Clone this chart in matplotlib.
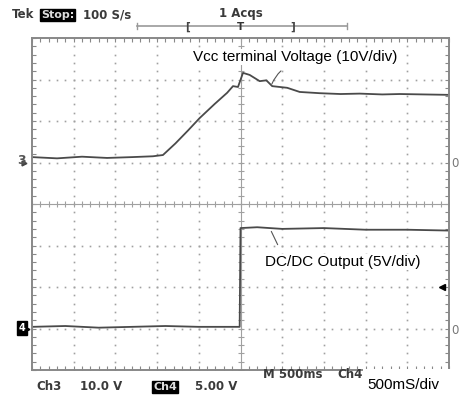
import numpy as np
import matplotlib.pyplot as plt
from matplotlib.patches import Rectangle

# scope capture: 500 ms/div, Ch3 10 V/div (ground +1 div), Ch4 5 V/div (ground -3 div)
vcc_t = [0.0, 0.3, 0.6, 0.9, 1.2, 1.45, 1.57, 1.72, 1.87, 2.01, 2.19, 2.34, 2.41, 2.47,
         2.53, 2.61, 2.73, 2.81, 2.88, 3.06, 3.21, 3.45, 3.7, 3.93, 4.2, 4.41, 4.7, 5.0]
vcc_v = [1.3, 1.0, 1.4, 1.1, 1.3, 1.5, 1.8, 4.6, 7.7, 10.7, 14.1, 16.8, 18.4, 18.2,
         21.6, 21.1, 19.6, 19.8, 18.4, 18.0, 17.0, 16.7, 16.5, 16.6, 16.4, 16.5, 16.4, 16.3]

dc_t = [0.0, 0.4, 0.8, 1.2, 1.6, 2.0, 2.3, 2.49, 2.50, 2.7, 3.0, 3.5, 4.0, 4.5, 5.0]
dc_v = [0.2, 0.3, 0.1, 0.2, 0.3, 0.2, 0.2, 0.2, 12.1, 12.2, 12.0, 12.1, 11.9, 11.9, 11.8]

ch3_scale, ch3_pos = 10.0, 1.0
ch4_scale, ch4_pos = 5.0, -3.0
time_scale = 0.5

W, H = 459, 398
fig = plt.figure(figsize=(W / 100, H / 100), dpi=100)
fig.patch.set_facecolor("white")

def fx(x):
    return x / W

def fy(y):
    return 1 - y / H

ax = fig.add_axes([fx(32), fy(370), 417 / W, 332 / H])
ax.set_xlim(0, 10)
ax.set_ylim(-4, 4)
ax.set_xticks(np.arange(0, 11, 1))
ax.set_yticks(np.arange(-4, 5, 1))
ax.set_xticks(np.arange(0, 10.01, 0.2), minor=True)
ax.set_yticks(np.arange(-4, 4.01, 0.2), minor=True)
ax.tick_params(which="both", direction="in", length=3, width=0.8, color="#888888",
               top=True, right=True, labelbottom=False, labelleft=False)
for s in ax.spines.values():
    s.set_color("#888888")
    s.set_linewidth(1.4)

grid_c = "#a0a0a0"
# dotted graticule
for gx in range(1, 10):
    if gx == 5:
        continue
    yy = np.arange(-4, 4.01, 0.2)
    ax.plot(np.full_like(yy, gx), yy, ls="none", marker="s", ms=1.2, color=grid_c, mew=0)
for gy in range(-3, 4):
    if gy == 0:
        continue
    xx = np.arange(0, 10.01, 0.2)
    ax.plot(xx, np.full_like(xx, gy), ls="none", marker="s", ms=1.2, color=grid_c, mew=0)
# center cross with ticks
ax.axhline(0, color=grid_c, lw=0.8)
ax.axvline(5, color=grid_c, lw=0.8)
xx = np.arange(0, 10.01, 0.2)
ax.plot(xx, np.zeros_like(xx), ls="none", marker="|", ms=4, color=grid_c, mew=0.8)
yy = np.arange(-4, 4.01, 0.2)
ax.plot(np.full_like(yy, 5), yy, ls="none", marker="_", ms=4, color=grid_c, mew=0.8)

trace_c = "#4a4a4a"
ax.plot(np.array(vcc_t) / time_scale, np.array(vcc_v) / ch3_scale + ch3_pos,
        color=trace_c, lw=1.3)
ax.plot(np.array(dc_t) / time_scale, np.array(dc_v) / ch4_scale + ch4_pos,
        color=trace_c, lw=1.3)

# channel markers
fig.text(fx(21), fy(161), "3", fontsize=9, fontweight="bold", color="#555555",
         ha="center", va="center")
ax.plot([-0.2], [ch3_pos], marker=">", ms=3.5, color="#444444", clip_on=False)
fig.text(fx(22), fy(328), "4", fontsize=7, fontweight="bold", color="white",
         ha="center", va="center",
         bbox=dict(boxstyle="square,pad=0.2", fc="black", ec="black"))
ax.plot([-0.12], [ch4_pos], marker=">", ms=3.5, color="black", clip_on=False)
fig.text(fx(455), fy(163), "0", fontsize=8.5, color="#777777", ha="center", va="center")
fig.text(fx(455), fy(330), "0", fontsize=8.5, color="#777777", ha="center", va="center")
ax.plot([9.83], [-2.0], marker="<", ms=5, color="black", clip_on=False)

# header
hdr = dict(fontsize=8.5, fontweight="bold", color="#3a3a3a", va="center")
fig.text(fx(12), fy(15), "Tek", **hdr)
fig.text(fx(41), fy(15), "Stop:", fontsize=8, fontweight="bold", color="#dddddd",
         va="center", bbox=dict(boxstyle="square,pad=0.1", fc="black", ec="black"))
fig.text(fx(83), fy(15), "100 S/s", **hdr)
fig.text(fx(241), fy(13), "1 Acqs", ha="center", fontsize=8.5, fontweight="bold",
         color="#3a3a3a", va="center")

bar_c = "#999999"
ax.plot([2.52, 7.55], [4.29, 4.29], color=bar_c, lw=1.2, clip_on=False)
for bx in (2.52, 7.55):
    ax.plot([bx, bx], [4.22, 4.36], color=bar_c, lw=1.0, clip_on=False)
fig.text(fx(188), fy(27), "[", fontsize=7.5, fontweight="bold", color="#444444", ha="center", va="center")
fig.text(fx(293), fy(27), "]", fontsize=7.5, fontweight="bold", color="#444444", ha="center", va="center")
fig.text(fx(241), fy(27.5), "T", fontsize=7.5, fontweight="bold", color="#333333", ha="center", va="center")

# footer
fig.text(fx(36), fy(387), "Ch3", **hdr)
fig.text(fx(80), fy(387), "10.0 V", **hdr)
fig.text(fx(153), fy(387), "Ch4", fontsize=8, fontweight="bold", color="#dddddd",
         va="center", bbox=dict(boxstyle="square,pad=0.1", fc="black", ec="black"))
fig.text(fx(195), fy(387), "5.00 V", **hdr)
fig.text(fx(263), fy(375), "M 500ms", **hdr)
fig.text(fx(337), fy(375), "Ch4", **hdr)

fig.patches.append(Rectangle((fx(363), fy(398)), 96 / W, 29 / H, transform=fig.transFigure,
                             fc="white", ec="none", zorder=5))
fig.text(fx(367), fy(385), "500mS/div", fontsize=11, family="Liberation Sans",
         color="black", va="center", zorder=6)

# annotations
fig.text(fx(193), fy(57), "Vcc terminal Voltage (10V/div)", fontsize=11,
         family="Liberation Sans", color="black", va="center",
         bbox=dict(boxstyle="square,pad=0.05", fc="white", ec="none"))
fig.text(fx(265), fy(262), "DC/DC Output (5V/div)", fontsize=11,
         family="Liberation Sans", color="black", va="center",
         bbox=dict(boxstyle="square,pad=0.05", fc="white", ec="none"))
ax.annotate("", xy=(5.73, 2.83), xytext=(6.02, 3.25),
            arrowprops=dict(arrowstyle="-", color="#555555", lw=0.8,
                            connectionstyle="arc3,rad=0.15"))
ax.annotate("", xy=(5.71, -0.6), xytext=(5.92, -1.04),
            arrowprops=dict(arrowstyle="-", color="#555555", lw=0.8))

fig.savefig("out.png", dpi=100)
